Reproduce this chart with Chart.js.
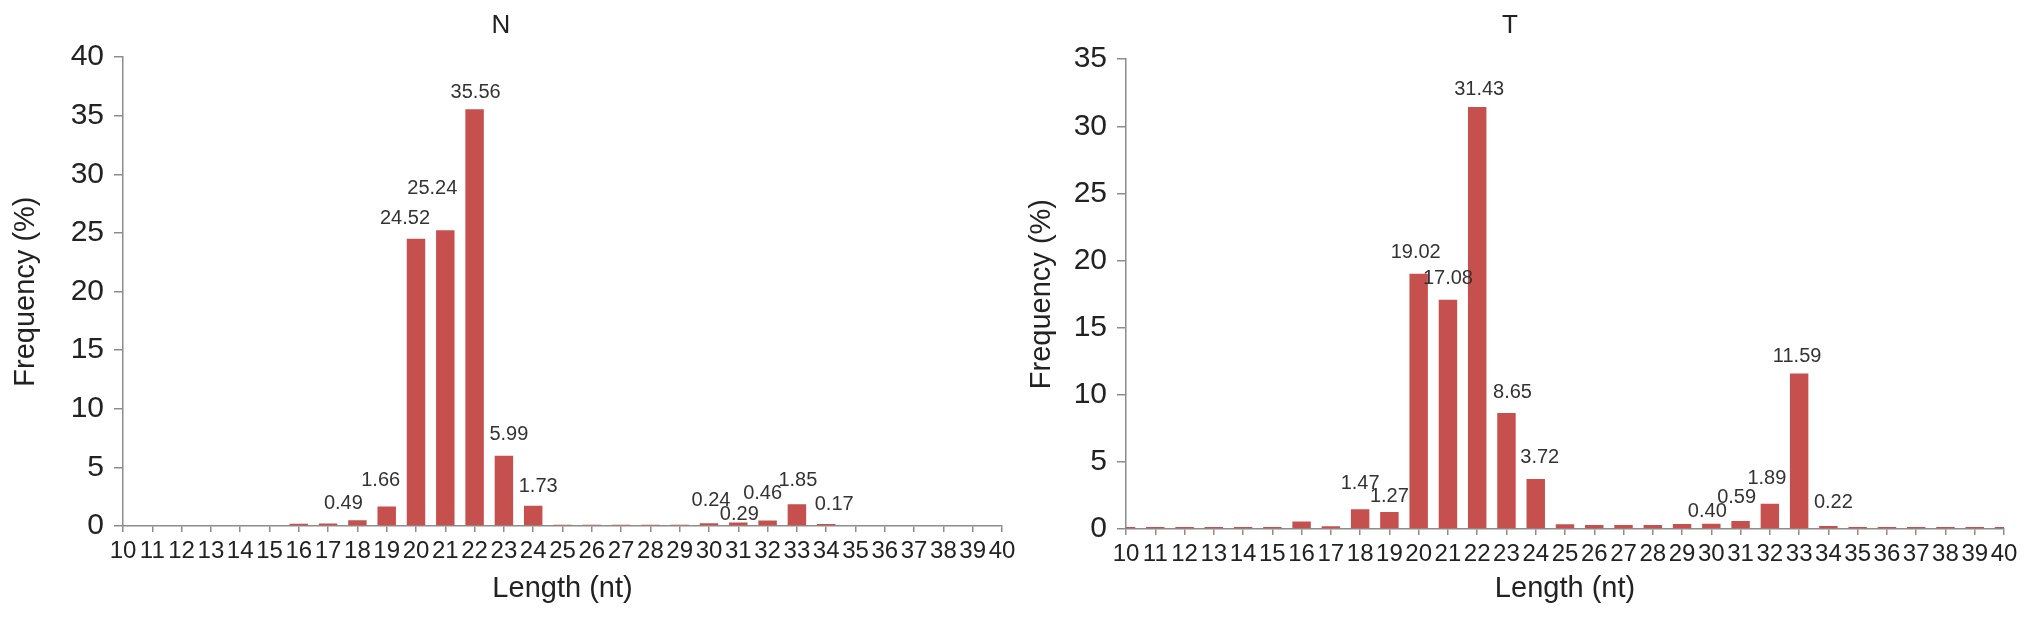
<!DOCTYPE html>
<html lang="en">
<head>
    <meta charset="UTF-8">
    <title>Length distribution N / T</title>
    <style>
        body { margin: 0; background: #fff; }
        .panel { position: absolute; top: 0; width: 1016px; height: 617px; }
        #panelN { left: 0; }
        #panelT { left: 1016px; }
    </style>
</head>
<body>
    <div class="panel" id="panelN"><canvas id="chartN" width="1016" height="617"></canvas></div>
    <div class="panel" id="panelT"><canvas id="chartT" width="1016" height="617"></canvas></div>

    <script src="https://cdn.jsdelivr.net/npm/chart.js"></script>
    <script>
        // Read lengths (nt) on the x axis
        const lengths = ['10', '11', '12', '13', '14', '15', '16', '17', '18', '19', '20',
                         '21', '22', '23', '24', '25', '26', '27', '28', '29', '30',
                         '31', '32', '33', '34', '35', '36', '37', '38', '39', '40'];

        // Frequency (%) per length, N sample
        const nValues = [0, 0, 0, 0, 0, 0, 0.2, 0.22, 0.49, 1.66, 24.52,
                         25.24, 35.56, 5.99, 1.73, 0.1, 0.1, 0.1, 0.1, 0.1, 0.24,
                         0.29, 0.46, 1.85, 0.17, 0, 0, 0, 0, 0, 0];

        // Frequency (%) per length, T sample
        const tValues = [0.15, 0.15, 0.15, 0.15, 0.15, 0.15, 0.55, 0.2, 1.47, 1.27, 19.02,
                         17.08, 31.43, 8.65, 3.72, 0.35, 0.3, 0.3, 0.3, 0.38, 0.40,
                         0.59, 1.89, 11.59, 0.22, 0.15, 0.15, 0.15, 0.15, 0.15, 0.15];

        // y axis tops
        const nYMax = 40;
        const tYMax = 35;
        const yStep = 5;

        // bars that carry a value label (index into lengths)
        const labelled = [8, 9, 10, 11, 12, 13, 14, 20, 21, 22, 23, 24];

        const FONT = '"Liberation Sans", Arial, Helvetica, sans-serif';
        const AXIS_GREY = '#8c8c8c';
        const BAR_RED = '#c5504e';

        // small hand nudges so labels sit where the original put them
        const nudgeN = { 8: [-14, 3], 9: [-6, -6], 10: [-11, 0], 11: [-13, -22], 12: [1, 3],
                         13: [5, -1], 14: [5, 1], 20: [2, -3], 21: [1, 12], 22: [-5, -7],
                         23: [1, -4], 24: [8, 0] };
        const nudgeT = { 8: [0, -6], 9: [0, 5], 10: [-3, -1], 11: [0, -1], 12: [2, 2],
                         13: [6, 0], 14: [4, -2], 20: [-4, 8], 21: [-4, -4], 22: [-3, -5],
                         23: [-2, 3], 24: [5, -4] };

        // draws the value text above the chosen bars
        const barLabels = {
            id: 'barLabels',
            afterDatasetsDraw(chart, args, opts) {
                const ctx = chart.ctx;
                const meta = chart.getDatasetMeta(0);
                const values = chart.data.datasets[0].data;
                ctx.save();
                ctx.font = '20px ' + FONT;
                ctx.fillStyle = '#333';
                ctx.textAlign = 'center';
                ctx.textBaseline = 'middle';
                opts.shown.forEach(i => {
                    const bar = meta.data[i];
                    const n = opts.nudge[i] || [0, 0];
                    ctx.fillText(values[i].toFixed(2), bar.x + n[0], bar.y - 20 + n[1]);
                });
                ctx.restore();
            }
        };

        function makeChart(id, title, values, yMax, box, nudge) {
            const ctx = document.getElementById(id).getContext('2d');
            return new Chart(ctx, {
                type: 'bar',
                data: {
                    labels: lengths,
                    datasets: [{
                        data: values,
                        backgroundColor: BAR_RED,
                        borderWidth: 0,
                        categoryPercentage: 0.7,
                        barPercentage: 0.9
                    }]
                },
                options: {
                    responsive: false,
                    devicePixelRatio: 1,
                    animation: false,
                    layout: { padding: { left: 0, right: box.padRight, top: 0, bottom: 0 } },
                    plugins: {
                        legend: { display: false },
                        tooltip: { enabled: false },
                        title: {
                            display: true,
                            text: title,
                            color: '#222',
                            font: { family: FONT, size: 26, weight: 'normal', lineHeight: 1.2 },
                            padding: { top: 10, bottom: box.titleGap }
                        },
                        barLabels: { shown: labelled, nudge: nudge }
                    },
                    scales: {
                        x: {
                            offset: false,
                            grid: { drawOnChartArea: false, offset: false, tickLength: 6, color: AXIS_GREY, lineWidth: 1.5 },
                            border: { color: AXIS_GREY, width: 1.5 },
                            ticks: {
                                autoSkip: false,
                                maxRotation: 0,
                                minRotation: 0,
                                padding: 5,
                                color: '#222',
                                font: { family: FONT, size: 24 }
                            },
                            title: {
                                display: true,
                                text: 'Length (nt)',
                                color: '#222',
                                font: { family: FONT, size: 29, lineHeight: 1.2 },
                                padding: { top: 0, bottom: 11 }
                            },
                            afterFit(scale) {
                                scale.height = box.xHeight;
                                scale.paddingLeft = 0;
                                scale.paddingRight = 0;
                            }
                        },
                        y: {
                            min: 0,
                            max: yMax,
                            grid: { drawOnChartArea: false, tickLength: 9, color: AXIS_GREY, lineWidth: 1.5 },
                            border: { color: AXIS_GREY, width: 1.5 },
                            ticks: {
                                stepSize: yStep,
                                padding: 10,
                                color: '#222',
                                font: { family: FONT, size: 30 }
                            },
                            title: {
                                display: true,
                                text: 'Frequency (%)',
                                color: '#222',
                                font: { family: FONT, size: 29, lineHeight: 1.2 },
                                padding: { top: 9, bottom: 0 }
                            },
                            afterFit(scale) {
                                scale.width = box.yWidth;
                                scale.paddingTop = 0;
                                scale.paddingBottom = 0;
                            }
                        }
                    }
                },
                plugins: [barLabels]
            });
        }

        makeChart('chartN', 'N', nValues, nYMax,
            { yWidth: 123, xHeight: 91, padRight: 14, titleGap: 16 }, nudgeN);
        makeChart('chartT', 'T', tValues, tYMax,
            { yWidth: 110, xHeight: 88, padRight: 28, titleGap: 18 }, nudgeT);
    </script>
</body>
</html>
